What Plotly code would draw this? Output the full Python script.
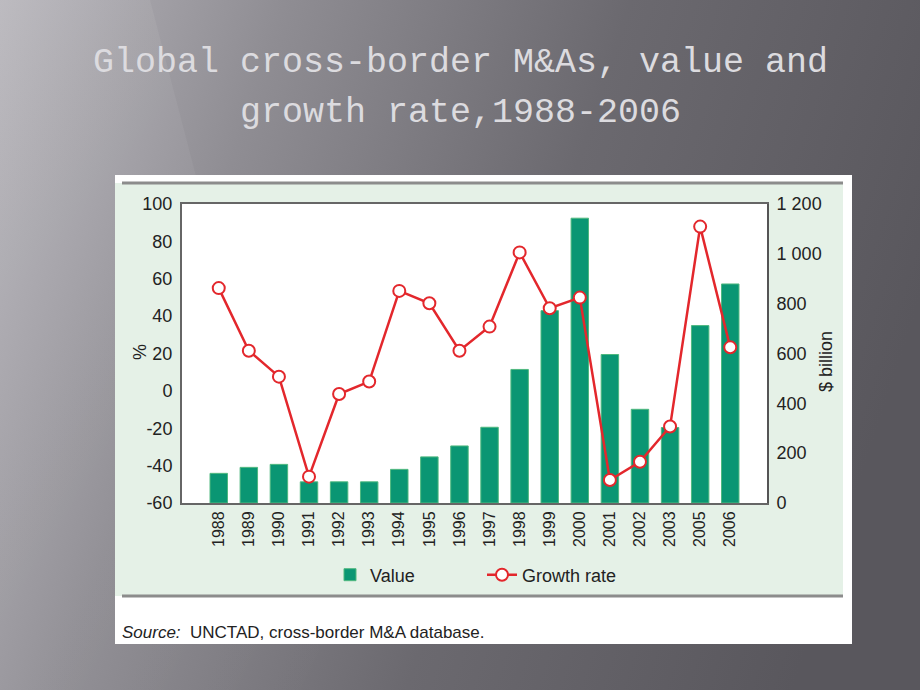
import base64
import plotly.graph_objects as go

# ---------------- data ----------------
years = ["1988", "1989", "1990", "1991", "1992", "1993", "1994", "1995", "1996",
         "1997", "1998", "1999", "2000", "2001", "2002", "2003", "2005", "2006"]
value_bn = [119, 143, 155, 85, 85, 85, 135, 185, 229, 304, 536, 772, 1143, 596,
            376, 303, 712, 879]
growth_pct = [55, 21.5, 7.6, -45.9, -1.7, 5, 53.5, 46.9, 21.5, 34.4, 74.1, 44.2,
              49.9, -47.7, -37.9, -19.1, 87.9, 23.3]
pct_ticks = [-60, -40, -20, 0, 20, 40, 60, 80, 100]
pct_ticktext = ["-60", "-40", "-20", "0", "20", "40", "60", "80", "100"]
bn_ticks = [0, 200, 400, 600, 800, 1000, 1200]
bn_ticktext = ["0", "200", "400", "600", "800", "1 000", "1 200"]

W, H = 920, 690
FONT = "Liberation Sans, Arial, Helvetica, sans-serif"

# ---------------- slide background (svg gradient) ----------------
svg = f"""<svg xmlns='http://www.w3.org/2000/svg' width='{W}' height='{H}' viewBox='0 0 {W} {H}' preserveAspectRatio='none'>
<defs>
<linearGradient id='g' x1='0' y1='0' x2='920' y2='300' gradientUnits='userSpaceOnUse'>
<stop offset='0' stop-color='#b7b5bb'/>
<stop offset='0.28' stop-color='#8f8d93'/>
<stop offset='0.62' stop-color='#6b696f'/>
<stop offset='1' stop-color='#59575d'/>
</linearGradient>
<linearGradient id='h' x1='0' y1='0' x2='1' y2='1'>
<stop offset='0' stop-color='#ffffff' stop-opacity='0.08'/>
<stop offset='1' stop-color='#ffffff' stop-opacity='0.0'/>
</linearGradient>
</defs>
<rect width='{W}' height='{H}' fill='url(#g)'/>
<polygon points='0,0 150,0 330,690 0,690' fill='url(#h)'/>
</svg>"""
bg_uri = "data:image/svg+xml;base64," + base64.b64encode(svg.encode()).decode()

fig = go.Figure()

fig.add_trace(go.Bar(
    x=years, y=value_bn, name="Value", yaxis="y",
    marker=dict(color="#0a9673", line=dict(color="#4fb87f", width=1)),
    width=0.58,
))
fig.add_trace(go.Scatter(
    x=years, y=growth_pct, name="Growth rate", yaxis="y2",
    mode="lines+markers",
    line=dict(color="#e3272c", width=2.5),
    marker=dict(symbol="circle", size=12, color="white",
                line=dict(color="#e3272c", width=2)),
))

L, R, T, B = 182, 767, 204, 503


def px(x):
    return x / W


def py(y):
    return 1 - y / H


shapes = [
    dict(type="rect", xref="paper", yref="paper", x0=px(115), x1=px(852),
         y0=py(644), y1=py(175), fillcolor="white", line=dict(width=0), layer="below"),
    dict(type="rect", xref="paper", yref="paper", x0=px(115), x1=px(843),
         y0=py(596), y1=py(183), fillcolor="#e5f1e7", line=dict(width=0), layer="below"),
    dict(type="line", xref="paper", yref="paper", x0=px(122), x1=px(843),
         y0=py(183), y1=py(183), line=dict(color="#8c8c8c", width=3), layer="below"),
    dict(type="line", xref="paper", yref="paper", x0=px(122), x1=px(843),
         y0=py(596), y1=py(596), line=dict(color="#8c8c8c", width=3), layer="below"),
    dict(type="rect", xref="paper", yref="paper", x0=px(L), x1=px(R),
         y0=py(B), y1=py(T), fillcolor="white", line=dict(width=0), layer="below"),
]

TITLE_FONT = dict(family="Liberation Mono, Courier New, monospace", size=35, color="#dcdbdf")
annotations = [
    dict(text="Global cross-border M&amp;As, value and", xref="paper", yref="paper",
         x=0.5, y=py(63), xanchor="center", yanchor="middle", showarrow=False,
         font=TITLE_FONT),
    dict(text="growth rate,1988-2006", xref="paper", yref="paper",
         x=0.5, y=py(113), xanchor="center", yanchor="middle", showarrow=False,
         font=TITLE_FONT),
    dict(text="%", xref="paper", yref="paper", x=px(140), y=py(352),
         xanchor="center", yanchor="middle", textangle=-90, showarrow=False,
         font=dict(family=FONT, size=18, color="#222")),
    dict(text="$ billion", xref="paper", yref="paper", x=px(826), y=py(362),
         xanchor="center", yanchor="middle", textangle=-90, showarrow=False,
         font=dict(family=FONT, size=18, color="#222")),
    dict(text="<i>Source:</i>&nbsp; UNCTAD, cross-border M&amp;A database.",
         xref="paper", yref="paper", x=px(120), y=py(632),
         xanchor="left", yanchor="middle", showarrow=False,
         font=dict(family=FONT, size=17, color="#222")),
]

fig.update_layout(
    width=W, height=H, autosize=False,
    margin=dict(l=0, r=0, t=0, b=0, pad=0, autoexpand=False),
    paper_bgcolor="#6b696f", plot_bgcolor="white",
    images=[dict(source=bg_uri, xref="paper", yref="paper", x=0, y=1,
                 sizex=1, sizey=1, xanchor="left", yanchor="top",
                 sizing="stretch", layer="below")],
    shapes=shapes,
    annotations=annotations,
    bargap=0.42,
    showlegend=True,
    legend=dict(orientation="h", x=px(330), xanchor="left", y=py(575),
                yanchor="middle", bgcolor="rgba(0,0,0,0)",
                font=dict(family=FONT, size=18, color="#222"),
                entrywidth=107, entrywidthmode="pixels"),
    xaxis=dict(type="category", categoryorder="array", categoryarray=years,
               domain=[px(L), px(R)], automargin=False,
               showline=True, linecolor="#666", linewidth=2, mirror=True,
               ticks="", tickangle=-90, showgrid=False,
               tickfont=dict(family=FONT, size=16, color="#222"),
               layer="below traces"),
    yaxis=dict(side="right", range=[0, 1200], tickvals=bn_ticks,
               domain=[py(B), py(T)], automargin=False,
               ticktext=bn_ticktext, showline=True, linecolor="#555",
               linewidth=2, ticks="", showgrid=False, zeroline=False,
               tickfont=dict(family=FONT, size=18, color="#222"),
               ticklabelstandoff=4),
    yaxis2=dict(side="left", overlaying="y", range=[-60, 100], tickvals=pct_ticks,
                ticktext=pct_ticktext, automargin=False,
                showline=True, linecolor="#666", linewidth=2, ticks="",
                showgrid=False, zeroline=False,
                tickfont=dict(family=FONT, size=18, color="#222"),
                ticklabelstandoff=4),
    font=dict(family=FONT),
)

fig.write_html("out.html", config={"displayModeBar": False},
               post_script="document.body.style.margin='0';document.body.style.overflow='hidden';")
